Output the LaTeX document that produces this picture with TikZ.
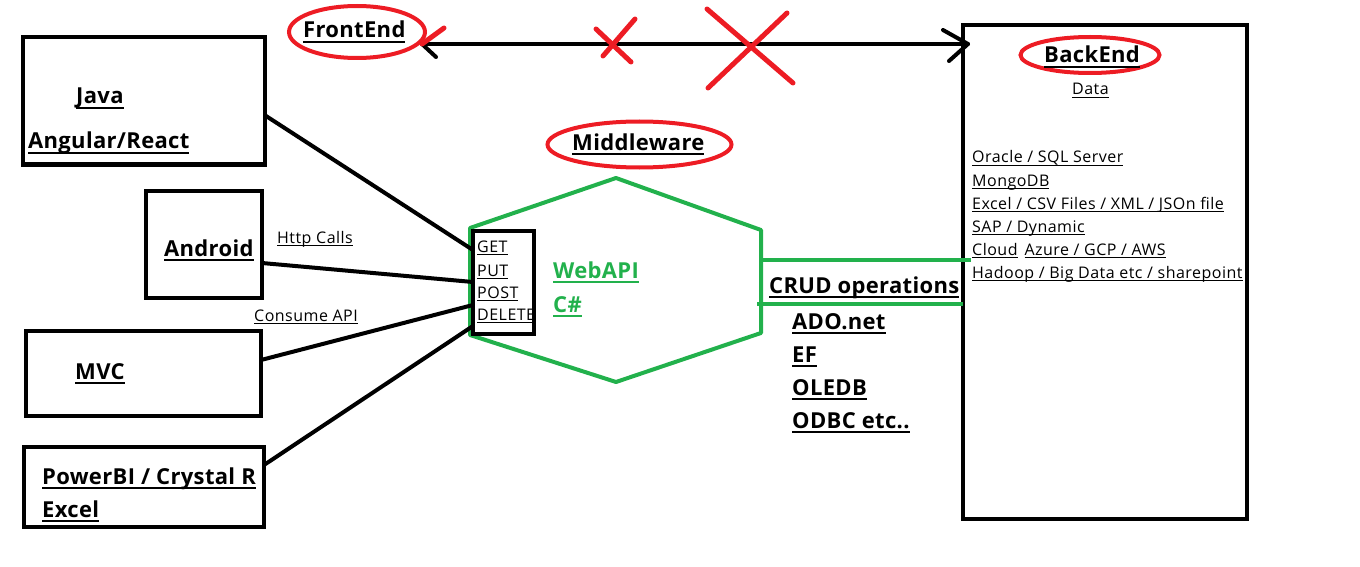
\documentclass[tikz,border=0pt]{standalone}
\usepackage{fontspec}
\setmainfont{Open Sans}
\usetikzlibrary{shapes.geometric}
\definecolor{pred}{HTML}{ED1C24}
\definecolor{pgreen}{HTML}{22B14C}
\newsavebox\ulbox
\newcommand\ulx[1]{\sbox\ulbox{#1}\rlap{\rule[-0.21em]{\wd\ulbox}{0.09em}}\usebox\ulbox}
\tikzset{
  box/.style={draw, line width=4pt, inner sep=0pt, outer sep=0pt},
  big/.style={font=\fontsize{22}{26}\selectfont\bfseries\addfontfeatures{LetterSpace=1.5}, inner sep=0pt, anchor=base west},
  small/.style={font=\fontsize{16}{19}\selectfont\addfontfeatures{LetterSpace=3}, inner sep=0pt, anchor=base west},
  conn/.style={line width=4pt},
  gline/.style={pgreen, line width=4pt},
  redring/.style={ellipse, draw=pred, line width=4pt, inner sep=0pt},
  redx/.style={pred, line width=5pt, line cap=round},
}
\begin{document}
\begin{tikzpicture}[x=1pt,y=-1pt]
\useasboundingbox (0,0) rectangle (1360,567);

% left boxes
\node[box, minimum width=242pt, minimum height=127pt] (java) at (143.5,101) {};
\node[big] (tjava) at (76,104) {\ulx{Java}};
\node[big] (tang) at (28,149) {\ulx{Angular/React}};
\node[box, minimum width=116pt, minimum height=107pt] (android) at (204,244) {};
\node[big] (tandroid) at (164,256) {\ulx{Android}};
\node[box, minimum width=235pt, minimum height=85pt] (mvc) at (143.5,373) {};
\node[big] (tmvc) at (75,379) {\ulx{MVC}};
\node[box, minimum width=240pt, minimum height=80pt] (pbi) at (144,487) {};
\node[big] (tpbi) at (42,484) {\ulx{PowerBI / Crystal R}};
\node[big] (texcel) at (42,517) {\ulx{Excel}};

% hexagon (WebAPI)
\draw[gline, line join=round] (616,178) coordinate (hxt) -- (761,230) coordinate (hxur)
  -- (761,333) coordinate (hxlr) -- (616,382) coordinate (hxb) -- (470,335) -- (470,228) -- cycle;
\node[big, text=pgreen] (twebapi) at (553,278) {\ulx{WebAPI}};
\node[big, text=pgreen] (tcs) at (553,312) {\ulx{C\#}};

% API verbs box
\node[box, minimum width=61.5pt, minimum height=103.5pt] (api) at (503.7,282.7) {};
\node[small] (tget) at (477,252) {\ulx{GET}};
\node[small] (tput) at (477,276) {\ulx{PUT}};
\node[small] (tpost) at (477,298) {\ulx{POST}};
\node[small] (tdel) at (477,320) {\ulx{DELETE}};

% connectors to API box
\draw[conn] (java.east |- 0,115) -- (api.west |- 0,250);
\draw[conn] (android.east |- 0,263) -- (api.west |- 0,282);
\draw[conn] (mvc.east |- 0,360) -- (api.west |- 0,305);
\draw[conn] (pbi.east |- 0,465) -- (api.west |- 0,326);
\node[small] (thttp) at (277,243) {\ulx{Http Calls}};
\node[small] (tconsume) at (254,321) {\ulx{Consume API}};

% Middleware label
\node[redring, minimum width=184pt, minimum height=46pt] (mwring) at (639.5,144.5) {};
\node[big] (tmw) at (572,150) {\ulx{Middleware}};

% FrontEnd label
\node[redring, minimum width=136pt, minimum height=52pt] (fering) at (357,32) {};
\node[big] (tfe) at (303,38) {\ulx{FrontEnd}};

% BackEnd box
\node[box, minimum width=284pt, minimum height=494pt] (be) at (1105,272) {};
\node[redring, minimum width=139pt, minimum height=36pt] (bering) at (1090,55) {};
\node[big] (tbe) at (1044,63) {\ulx{BackEnd}};
\node[small] (tdata) at (1072,95) {\ulx{Data}};
\node[small] (l1) at (972,163) {\ulx{Oracle / SQL Server}};
\node[small] (l2) at (972,186) {\ulx{MongoDB}};
\node[small] (l3) at (972,209) {\ulx{Excel / CSV Files / XML / JSOn file}};
\node[small] (l4) at (972,232) {\ulx{SAP / Dynamic}};
\node[small] (l5) at (972,255) {\ulx{Cloud}\hspace{7pt}\ulx{Azure / GCP / AWS}};
\node[small] (l6) at (972,278) {\ulx{Hadoop / Big Data etc / sharepoint}};

% double arrow FrontEnd <-> BackEnd
\coordinate (ltip) at (422,44);
\coordinate (rtip) at (968,44);
\draw[conn] (ltip) -- (rtip);
\draw[conn, line cap=round] (ltip) -- (436,57);
\draw[redx] (ltip) -- (444,28);
\draw[conn, line cap=round] (rtip) -- (943,30);
\draw[conn, line cap=round] (rtip) -- (949,61);
% red crosses
\draw[redx] (596,29) -- (631,62);
\draw[redx] (635,19) -- (603,56);
\draw[redx] (707,9) -- (793,83);
\draw[redx] (787,13) -- (708,88);

% CRUD connectors
\draw[gline] (hxur |- 0,260) -- (971,260);
\draw[gline] (757,304) -- (be.west |- 0,304);
\node[big] (tcrud) at (769,293) {\ulx{CRUD operations}};
\node[big] (tado) at (792,329) {\ulx{ADO.net}};
\node[big] (tef) at (792,362) {\ulx{EF}};
\node[big] (tole) at (792,395) {\ulx{OLEDB}};
\node[big] (todbc) at (792,428) {\ulx{ODBC etc..}};
\end{tikzpicture}
\end{document}
